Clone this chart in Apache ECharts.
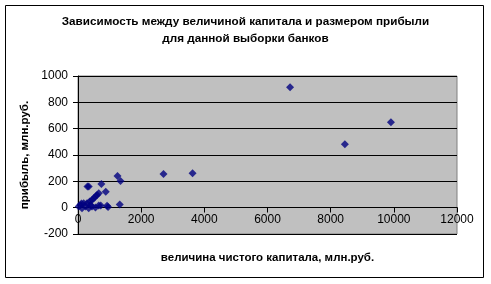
<!DOCTYPE html>
<html>
<head>
<meta charset="utf-8">
<script src="https://cdn.jsdelivr.net/npm/echarts@6/dist/echarts.min.js"></script>
<style>html,body{margin:0;padding:0;background:#fff;}#c{width:491px;height:284px;}</style>
</head>
<body>
<div id="c"></div>
<script>
const titleText = 'Зависимость между величиной капитала и размером прибыли\nдля данной выборки банков';
const xAxisName = 'величина чистого капитала, млн.руб.';
const yAxisName = 'прибыль, млн.руб.';
const capital = [6714, 9908, 8449, 2708, 3628, 1250, 1345, 1322, 952, 878, 741, 340, 720,
  657, 603, 552, 498, 444, 371, 285, 76, 127, 235, 339, 444, 552, 657, 181, 22, 393, 108, 920, 298];
const profit = [915, 648, 481, 256, 261, 241, 203, 24, 6, 120, 180, 160, 17,
  110, 97, 85, 72, 59, 47, 34, 21, -4, 9, -4, 9, 2, 17, 34, 9, 21, 32, 14, 161];
const points = capital.map((c, i) => [c, profit[i]]);
const font = "'Liberation Sans', Arial, sans-serif";
const plain = v => String(v);
const chart = echarts.init(document.getElementById('c'));
chart.setOption({
  animation: false,
  title: {
    text: titleText, left: 'center', top: 8,
    textStyle: {fontFamily: font, fontSize: 11.7, fontWeight: 'bold', color: '#000', lineHeight: 17}
  },
  graphic: [{type: 'rect', shape: {x: 5.5, y: 5.5, width: 478, height: 272}, style: {fill: null, stroke: '#000', lineWidth: 1}, z: 100}],
  grid: {left: 78, right: 34, top: 76, bottom: 50, show: true, backgroundColor: '#C0C0C0', borderColor: '#808080', borderWidth: 1},
  xAxis: {
    type: 'value', min: 0, max: 12000, interval: 2000, position: 'bottom', offset: -26.5,
    name: xAxisName, nameLocation: 'middle', nameGap: 44,
    nameTextStyle: {fontFamily: font, fontSize: 11.5, fontWeight: 'bold', color: '#000'},
    axisLine: {show: true, onZero: false, lineStyle: {color: '#000'}},
    axisTick: {show: true, length: 5, lineStyle: {color: '#000'}},
    axisLabel: {fontFamily: font, fontSize: 12, color: '#000', margin: 6, formatter: plain},
    splitLine: {show: false}
  },
  yAxis: {
    type: 'value', min: -200, max: 1000, interval: 200,
    name: yAxisName, nameLocation: 'middle', nameGap: 43, nameRotate: 90,
    nameTextStyle: {fontFamily: font, fontSize: 11.5, fontWeight: 'bold', color: '#000'},
    axisLine: {show: true, onZero: false, lineStyle: {color: '#000'}},
    axisTick: {show: true, length: 5, lineStyle: {color: '#000'}},
    axisLabel: {fontFamily: font, fontSize: 12, color: '#000', margin: 10, formatter: plain},
    splitLine: {show: true, lineStyle: {color: '#000', width: 1}}
  },
  series: [{
    type: 'scatter', data: points, symbol: 'diamond', symbolSize: 8,
    itemStyle: {color: '#000080'}
  }]
});
</script>
</body>
</html>
